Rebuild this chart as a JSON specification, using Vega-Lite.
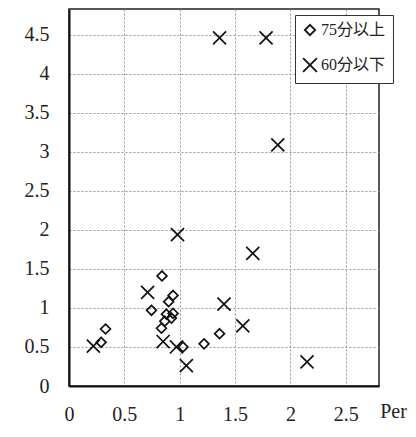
{
  "$schema": "https://vega.github.io/schema/vega-lite/v6.json",
  "width": 310,
  "height": 377,
  "autosize": "none",
  "padding": {"left": 69, "top": 9, "right": 37, "bottom": 51},
  "background": "white",
  "config": {
    "view": {"stroke": "#222", "strokeWidth": 1.5},
    "axis": {
      "labelFont": "Liberation Serif",
      "labelFontSize": 20,
      "labelColor": "#222",
      "titleFont": "Liberation Serif",
      "titleFontSize": 20,
      "titleFontWeight": "normal",
      "titleColor": "#222",
      "domainColor": "#111",
      "domainWidth": 2,
      "tickColor": "#111",
      "tickWidth": 2,
      "tickSize": 8,
      "gridColor": "#999",
      "gridDash": [2, 2],
      "gridWidth": 1
    }
  },
  "data": {
    "values": [
      {"x": 1.36, "y": 4.46, "g": "60分以下"},
      {"x": 1.78, "y": 4.46, "g": "60分以下"},
      {"x": 1.886, "y": 3.09, "g": "60分以下"},
      {"x": 0.98, "y": 1.94, "g": "60分以下"},
      {"x": 1.66, "y": 1.70, "g": "60分以下"},
      {"x": 0.71, "y": 1.20, "g": "60分以下"},
      {"x": 1.40, "y": 1.05, "g": "60分以下"},
      {"x": 1.57, "y": 0.77, "g": "60分以下"},
      {"x": 0.22, "y": 0.51, "g": "60分以下"},
      {"x": 0.85, "y": 0.57, "g": "60分以下"},
      {"x": 0.97, "y": 0.50, "g": "60分以下"},
      {"x": 1.06, "y": 0.26, "g": "60分以下"},
      {"x": 2.15, "y": 0.31, "g": "60分以下"},
      {"x": 0.29, "y": 0.56, "g": "75分以上"},
      {"x": 0.33, "y": 0.73, "g": "75分以上"},
      {"x": 0.745, "y": 0.97, "g": "75分以上"},
      {"x": 0.84, "y": 1.41, "g": "75分以上"},
      {"x": 0.94, "y": 1.16, "g": "75分以上"},
      {"x": 0.90, "y": 1.08, "g": "75分以上"},
      {"x": 0.88, "y": 0.92, "g": "75分以上"},
      {"x": 0.94, "y": 0.93, "g": "75分以上"},
      {"x": 0.925, "y": 0.87, "g": "75分以上"},
      {"x": 0.865, "y": 0.83, "g": "75分以上"},
      {"x": 0.835, "y": 0.74, "g": "75分以上"},
      {"x": 1.03, "y": 0.50, "g": "75分以上"},
      {"x": 1.22, "y": 0.54, "g": "75分以上"},
      {"x": 1.36, "y": 0.67, "g": "75分以上"}
    ]
  },
  "resolve": {"axis": {"x": "independent", "y": "independent"}},
  "layer": [
    {
      "mark": {"type": "point", "filled": false, "stroke": "#111", "strokeWidth": 1.7, "size": 170, "opacity": 1},
      "encoding": {
        "x": {
          "field": "x", "type": "quantitative",
          "scale": {"domain": [0, 2.8], "nice": false, "zero": true},
          "axis": {
            "orient": "bottom",
            "values": [0, 0.5, 1, 1.5, 2, 2.5],
            "grid": true,
            "ticks": false,
            "labelPadding": 18,
            "labelFlush": false,
            "labelExpr": "format(datum.value, '~g')",
            "title": "Per",
            "titleX": 324,
            "titleY": 31,
            "titleAlign": "center",
            "titleBaseline": "alphabetic",
            "titlePadding": 0
          }
        },
        "y": {
          "field": "y", "type": "quantitative",
          "scale": {"domain": [0, 4.83], "nice": false, "zero": true},
          "axis": {
            "orient": "left",
            "values": [0, 0.5, 1, 1.5, 2, 2.5, 3, 3.5, 4, 4.5],
            "grid": true,
            "ticks": false,
            "labelPadding": 20,
            "labelFlush": false,
            "labelExpr": "format(datum.value, '~g')",
            "title": null
          }
        },
        "shape": {
          "field": "g", "type": "nominal",
          "scale": {
            "domain": ["75分以上", "60分以下"],
            "range": ["M0,-0.75L0.75,0L0,0.75L-0.75,0Z", "M-1,-1L1,1M-1,1L1,-1"]
          },
          "legend": {
            "title": null,
            "orient": "none",
            "legendX": 226,
            "legendY": 6,
            "padding": 7,
            "fillColor": "white",
            "strokeColor": "#333",
            "labelFont": "Liberation Serif, Noto Sans CJK JP",
            "labelFontSize": 16,
            "labelColor": "#222",
            "labelOffset": 3,
            "rowPadding": 15,
            "symbolSize": 190,
            "symbolStrokeWidth": 1.8,
            "symbolStrokeColor": "#111",
            "symbolFillColor": "transparent"
          }
        }
      }
    },
    {
      "mark": {"type": "point", "opacity": 0},
      "encoding": {
        "x": {
          "field": "x", "type": "quantitative",
          "axis": {
            "orient": "top",
            "position": -377,
            "values": [0.5, 1, 1.5, 2, 2.5],
            "grid": false,
            "labels": false,
            "domain": false,
            "ticks": true,
            "title": null
          }
        },
        "y": {
          "field": "y", "type": "quantitative",
          "axis": {
            "orient": "right",
            "position": -310,
            "values": [0.5, 1, 1.5, 2, 2.5, 3, 3.5, 4, 4.5],
            "grid": false,
            "labels": false,
            "domain": false,
            "ticks": true,
            "title": null
          }
        }
      }
    }
  ]
}
